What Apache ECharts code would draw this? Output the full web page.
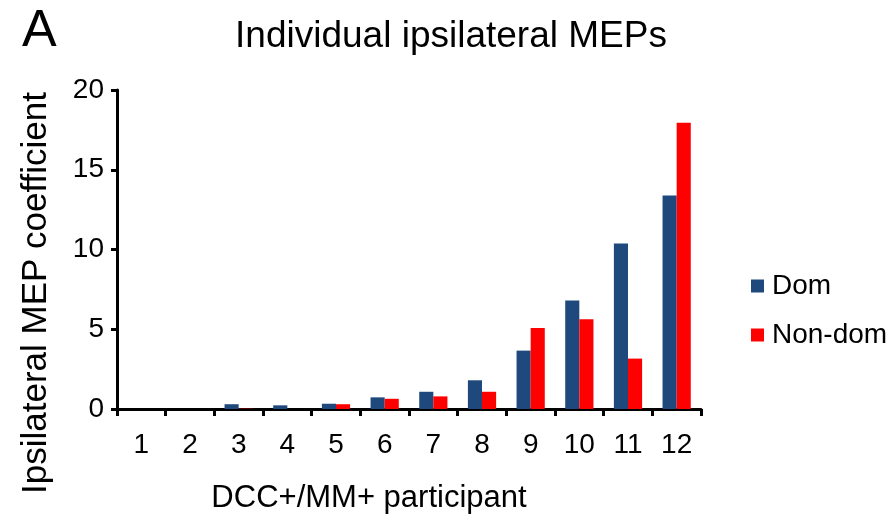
<!DOCTYPE html>
<html><head><meta charset="utf-8">
<script src="https://cdn.jsdelivr.net/npm/echarts@6/dist/echarts.min.js"></script>
<style>html,body{margin:0;padding:0;background:#fff}#c{width:896px;height:529px}</style>
</head><body><div id="c"></div>
<script>
var categories = ['1','2','3','4','5','6','7','8','9','10','11','12'];
var domValues = [0, 0, 0.3, 0.23, 0.33, 0.73, 1.08, 1.8, 3.66, 6.8, 10.37, 13.38];
var nonDomValues = [0, 0, 0.02, 0, 0.3, 0.64, 0.79, 1.08, 5.08, 5.63, 3.16, 17.94];
var yTicks = [0, 5, 10, 15, 20];

var font = '"Liberation Sans", Arial, sans-serif';
var chart = echarts.init(document.getElementById('c'), null, {renderer: 'canvas'});
chart.setOption({
  animation: false,
  backgroundColor: '#fff',
  title: [
    {text: 'Individual ipsilateral MEPs', left: 446, top: 13, textAlign: 'center',
     textStyle: {fontFamily: font, fontSize: 37, fontWeight: 'normal', color: '#000'}},
    {text: 'A', left: 17, top: 1,
     textStyle: {fontFamily: font, fontSize: 52, fontWeight: 'normal', color: '#000'}}
  ],
  legend: {
    orient: 'vertical', left: 751, top: 272, padding: 0, itemGap: 21, itemWidth: 13, itemHeight: 13,
    icon: 'rect',
    textStyle: {fontFamily: font, fontSize: 28, color: '#000', padding: [0,0,0,3]},
    data: ['Dom', 'Non-dom']
  },
  graphic: [
    {type: 'text', x: 36, y: 293, rotation: Math.PI / 2,
     style: {text: 'Ipsilateral MEP coefficient', font: '35px "Liberation Sans", Arial, sans-serif',
             fill: '#000', textAlign: 'center', textVerticalAlign: 'middle'}}
  ],
  grid: {left: 117, right: 195, top: 90, bottom: 120, containLabel: false},
  xAxis: {
    type: 'category', data: categories,
    name: 'DCC+/MM+ participant', nameLocation: 'middle', nameGap: 74,
    nameTextStyle: {fontFamily: font, fontSize: 31, color: '#000', padding: [0, 80, 0, 0]},
    axisLine: {lineStyle: {color: '#000', width: 3}},
    axisTick: {show: true, length: 7, lineStyle: {color: '#000', width: 3}},
    axisLabel: {fontFamily: font, fontSize: 28, color: '#000', margin: 22, interval: 0}
  },
  yAxis: {
    type: 'value', min: 0, max: 20, interval: 5,
    axisLine: {show: true, lineStyle: {color: '#000', width: 3}},
    axisTick: {show: true, length: 6, lineStyle: {color: '#000', width: 3}},
    splitLine: {show: false},
    axisLabel: {fontFamily: font, fontSize: 28, color: '#000', margin: 13,
      formatter: function(v){ return yTicks.indexOf(v) >= 0 ? String(v) : ''; }}
  },
  series: [
    {name: 'Dom', type: 'bar', data: domValues, barGap: '0%', barCategoryGap: '42%',
     itemStyle: {color: '#1F497D'}},
    {name: 'Non-dom', type: 'bar', data: nonDomValues, barGap: '0%', barCategoryGap: '42%',
     itemStyle: {color: '#FF0000'}}
  ]
});
</script></body></html>
